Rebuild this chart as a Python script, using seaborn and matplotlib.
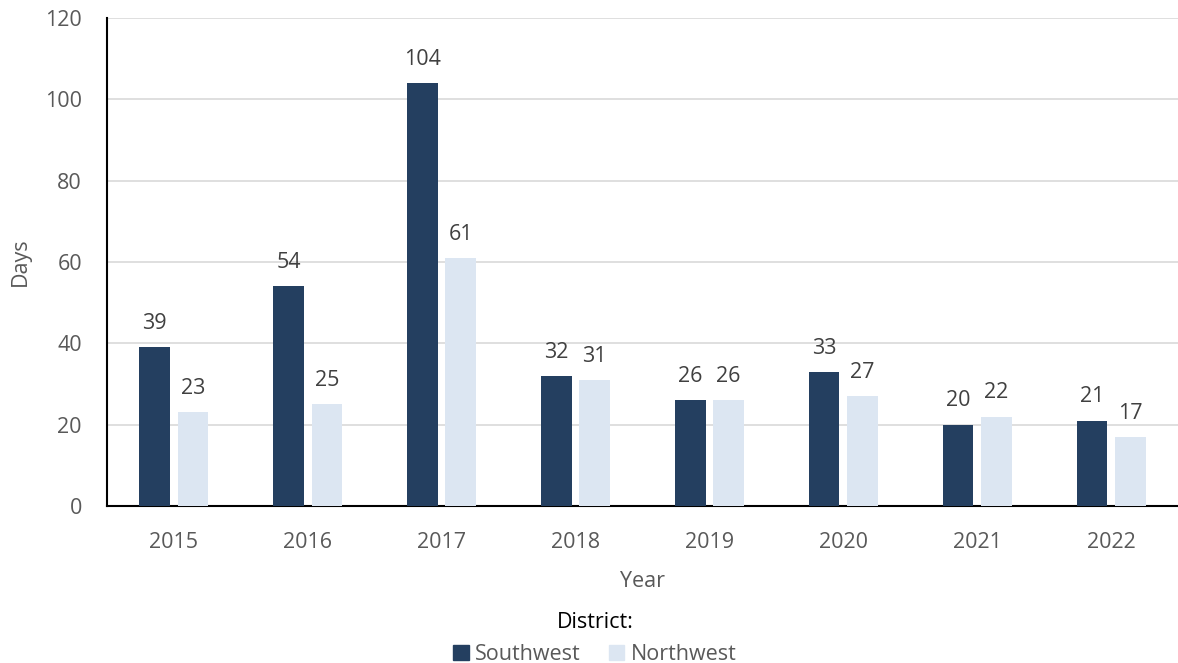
import matplotlib
matplotlib.use("Agg")
import matplotlib.pyplot as plt
import seaborn as sns
import pandas as pd

years = ["2015", "2016", "2017", "2018", "2019", "2020", "2021", "2022"]
southwest = [39, 54, 104, 32, 26, 33, 20, 21]
northwest = [23, 25, 61, 31, 26, 27, 22, 17]
districts = ["Southwest", "Northwest"]
colors = ["#243F60", "#DCE6F2"]

df = pd.DataFrame({
    "Year": years * 2,
    "Days": southwest + northwest,
    "District": [districts[0]] * len(years) + [districts[1]] * len(years),
})

sns.set_theme(style="white")
plt.rcParams["font.family"] = ["Open Sans", "DejaVu Sans"]

FS = 15.5

fig = plt.figure(figsize=(11.78, 6.63), dpi=100)
ax = fig.add_axes([0.0908, 0.2368, 0.9092, 0.7361])

sns.barplot(data=df, x="Year", y="Days", hue="District", order=years,
            hue_order=districts, palette=colors, width=0.572, gap=0.2,
            saturation=1, errorbar=None, linewidth=0, ax=ax, zorder=3)

for cont in ax.containers:
    ax.bar_label(cont, labels=[f"{int(v)}" for v in cont.datavalues],
                 padding=9.5, fontsize=FS, color="#404040")

ax.set_ylim(0, 120)
ax.set_yticks(range(0, 121, 20))
ax.set_xlim(-0.5, len(years) - 0.5)
ax.yaxis.grid(True, color="#D9D9D9", linewidth=1.2, zorder=0)
ax.set_axisbelow(True)

for side in ["top", "right"]:
    ax.spines[side].set_visible(False)
for side in ["left", "bottom"]:
    ax.spines[side].set_color("#000000")
    ax.spines[side].set_linewidth(1.5)

ax.tick_params(axis="x", labelsize=FS, labelcolor="#595959", length=0, pad=18.5)
ax.tick_params(axis="y", labelsize=FS, labelcolor="#595959", length=0, pad=18)
ax.set_xlabel("Year", fontsize=FS, color="#595959", labelpad=13)
ax.set_ylabel("Days", fontsize=FS, color="#595959", labelpad=10)

ax.legend_.remove()
handles = [plt.Rectangle((0, 0), 1, 1, color=c) for c in colors]
leg = fig.legend(handles, districts, title="District:", loc="lower center",
                 bbox_to_anchor=(0.505, -0.019), ncol=2, frameon=False,
                 fontsize=FS, title_fontsize=FS, handlelength=0.72,
                 handleheight=0.72, handletextpad=0.3, columnspacing=1.3,
                 borderpad=0.0, labelspacing=0.48)
for t in leg.get_texts():
    t.set_color("#595959")
leg.get_title().set_color("#000000")

fig.savefig("out.png", dpi=100)
